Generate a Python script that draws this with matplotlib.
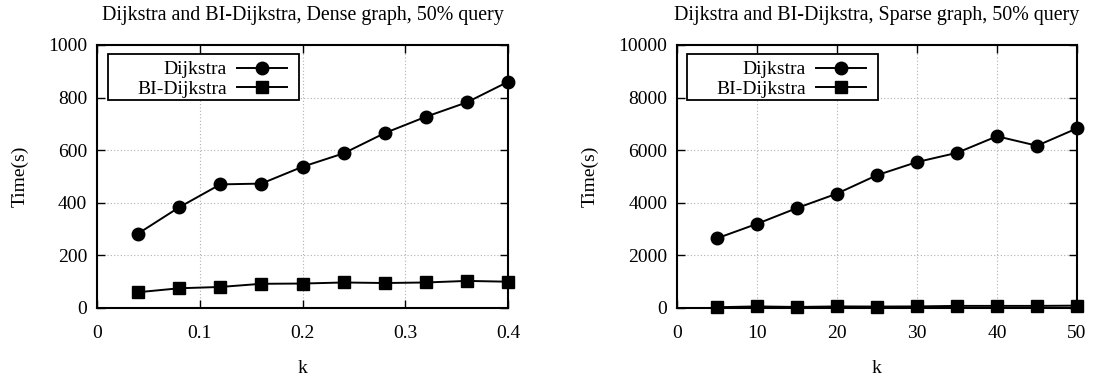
import matplotlib
matplotlib.use("Agg")
import matplotlib.pyplot as plt
from matplotlib.patches import Rectangle

plt.rcParams['font.family'] = ['Liberation Serif', 'DejaVu Serif']

k_dense = [0.04, 0.08, 0.12, 0.16, 0.20, 0.24, 0.28, 0.32, 0.36, 0.40]
dij_dense = [283, 383, 470, 473, 537, 588, 665, 727, 782, 860]
bi_dense = [60, 75, 80, 92, 93, 97, 95, 97, 103, 100]

k_sparse = [5, 10, 15, 20, 25, 30, 35, 40, 45, 50]
dij_sparse = [2650, 3200, 3800, 4350, 5050, 5550, 5900, 6530, 6170, 6830]
bi_sparse = [30, 60, 40, 60, 55, 60, 80, 80, 80, 90]

titles = ["Dijkstra and BI-Dijkstra, Dense graph, 50% query",
          "Dijkstra and BI-Dijkstra, Sparse graph, 50% query"]

W, H = 1093, 380
fig = plt.figure(figsize=(W / 100, H / 100), dpi=100)
ax1 = fig.add_axes([97 / W, 1 - 308 / H, 411 / W, 263 / H])
ax2 = fig.add_axes([677 / W, 1 - 308 / H, 400 / W, 263 / H])

FS = 14

def style(ax, x, d, b, xlim, ylim, xticks, yticks, xtl, title, box, axw):
    ax.plot(x, d, '-', color='black', lw=1.4, marker='o', ms=9, label='Dijkstra', zorder=3, clip_on=False)
    ax.plot(x, b, '-', color='black', lw=1.4, marker='s', ms=8, label='BI-Dijkstra', zorder=3, clip_on=False)
    ax.set_xlim(*xlim)
    ax.set_ylim(*ylim)
    ax.set_xticks(xticks)
    ax.set_xticklabels(xtl)
    ax.set_yticks(yticks)
    ax.tick_params(direction='in', top=True, right=True, length=6, width=1, labelsize=FS, pad=7)
    ax.tick_params(axis='x', pad=12)
    ax.grid(True, linestyle=(0, (1, 2)), color='#b0b0b0', lw=0.8)
    ax.set_axisbelow(True)
    for s in ax.spines.values():
        s.set_linewidth(1.5)
    ax.set_xlabel('k', fontsize=FS, labelpad=13.5)
    ax.set_ylabel('Time(s)', fontsize=FS, labelpad=14)
    ax.set_title(title, fontsize=14.4, pad=18)
    # legend box (gnuplot style, wider on the left)
    x0, y0, x1, y1 = box
    rect = Rectangle((x0, y0), x1 - x0, y1 - y0, transform=ax.transAxes,
                     facecolor='white', edgecolor='black', lw=1.3, zorder=4, clip_on=False)
    ax.add_patch(rect)
    leg = ax.legend(loc='upper right', bbox_to_anchor=(x1 - 5 / axw, y1), markerfirst=False, fontsize=FS,
                    handlelength=2.6, frameon=False, borderpad=0.35,
                    labelspacing=0.1, handletextpad=0.5, borderaxespad=0.0)
    for t in leg.get_texts():
        t.set_ha('right')
    leg.set_zorder(5)

def axbox(l, r, t, bt, ax_l, ax_r, ax_t, ax_b):
    w = ax_r - ax_l
    h = ax_b - ax_t
    return ((l - ax_l) / w, (ax_b - bt) / h, (r - ax_l) / w, (ax_b - t) / h)

style(ax1, k_dense, dij_dense, bi_dense, (0, 0.4), (0, 1000),
      [0, 0.1, 0.2, 0.3, 0.4], [0, 200, 400, 600, 800, 1000],
      ['0', '0.1', '0.2', '0.3', '0.4'], titles[0],
      axbox(108, 299, 54, 100, 97, 508, 45, 308), 411)
style(ax2, k_sparse, dij_sparse, bi_sparse, (0, 50), (0, 10000),
      [0, 10, 20, 30, 40, 50], [0, 2000, 4000, 6000, 8000, 10000],
      ['0', '10', '20', '30', '40', '50'], titles[1],
      axbox(687, 878, 54, 100, 677, 1077, 45, 308), 400)

fig.savefig('out.png', dpi=100)
